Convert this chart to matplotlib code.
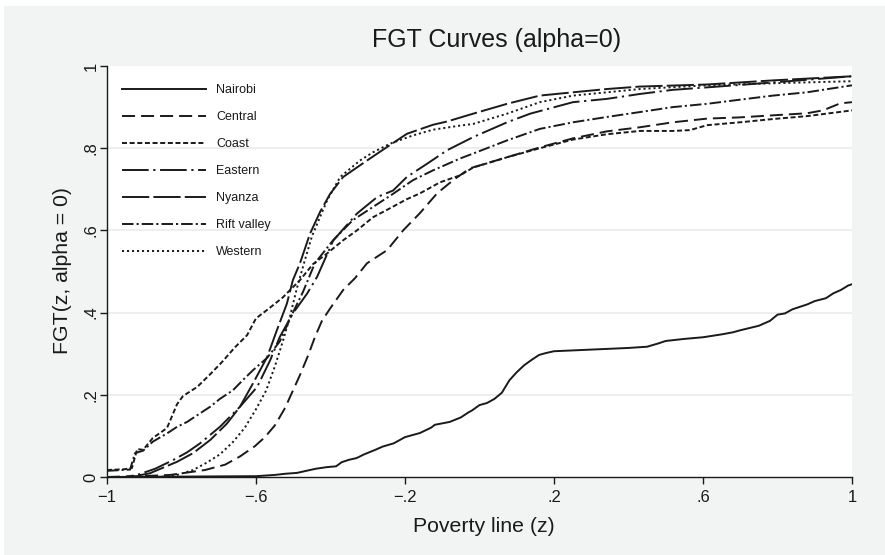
import matplotlib
matplotlib.use("Agg")
import matplotlib.pyplot as plt
from matplotlib.patches import Rectangle

plt.rcParams['font.family'] = ['Liberation Sans', 'DejaVu Sans']
plt.rcParams['lines.scale_dashes'] = False

## FGT (alpha=0) curves by region, poverty line z on the x axis
regions = ["Nairobi", "Central", "Coast", "Eastern", "Nyanza", "Rift valley", "Western"]

nairobi_z = [-1.0, -0.6, -0.55, -0.52, -0.49, -0.475, -0.44, -0.41, -0.385, -0.37, -0.35, -0.33,
             -0.31, -0.28, -0.26, -0.23, -0.2, -0.16, -0.13, -0.12, -0.08, -0.05, -0.03, -0.02,
             0.0, 0.02, 0.04, 0.06, 0.08, 0.1, 0.12, 0.14, 0.16, 0.18, 0.2, 0.25, 0.3, 0.35,
             0.4, 0.45, 0.48, 0.5, 0.55, 0.6, 0.65, 0.68, 0.7, 0.75, 0.78, 0.8, 0.82, 0.84,
             0.88, 0.9, 0.93, 0.95, 0.97, 0.99, 1.0]
nairobi_p = [0.0, 0.002, 0.005, 0.008, 0.01, 0.013, 0.02, 0.024, 0.026, 0.036, 0.042, 0.046,
             0.055, 0.066, 0.074, 0.082, 0.097, 0.107, 0.12, 0.127, 0.134, 0.145, 0.157, 0.162,
             0.175, 0.18, 0.19, 0.205, 0.235, 0.255, 0.272, 0.285, 0.297, 0.302, 0.306, 0.308,
             0.31, 0.312, 0.314, 0.317, 0.325, 0.331, 0.336, 0.34, 0.347, 0.352, 0.357, 0.368,
             0.38, 0.395, 0.398, 0.408, 0.42, 0.428, 0.435, 0.447, 0.455, 0.466, 0.469]

central_z = [-1.0, -0.885, -0.831, -0.791, -0.737, -0.683, -0.643, -0.603, -0.576, -0.549,
             -0.522, -0.501, -0.482, -0.46, -0.442, -0.423, -0.401, -0.366, -0.334, -0.302,
             -0.248, -0.205, -0.16, -0.114, -0.071, -0.026, 0.074, 0.162, 0.251, 0.342, 0.431,
             0.519, 0.611, 0.699, 0.788, 0.879, 0.922, 0.968, 1.0]
central_p = [0.0, 0.003, 0.005, 0.01, 0.017, 0.03, 0.05, 0.075, 0.097, 0.126, 0.168, 0.21,
             0.248, 0.296, 0.34, 0.38, 0.41, 0.455, 0.484, 0.52, 0.552, 0.6, 0.642, 0.69,
             0.722, 0.751, 0.778, 0.802, 0.824, 0.841, 0.851, 0.863, 0.872, 0.875, 0.88,
             0.885, 0.892, 0.909, 0.912]

coast_z = [-1.0, -0.952, -0.933, -0.919, -0.903, -0.877, -0.839, -0.812, -0.796, -0.758,
           -0.723, -0.691, -0.656, -0.624, -0.6, -0.568, -0.528, -0.482, -0.447, -0.409,
           -0.366, -0.329, -0.286, -0.24, -0.195, -0.16, -0.106, -0.052, -0.017, 0.074,
           0.162, 0.251, 0.342, 0.431, 0.519, 0.565, 0.611, 0.699, 0.788, 0.879, 1.0]
coast_p = [0.017, 0.019, 0.022, 0.068, 0.066, 0.095, 0.119, 0.177, 0.197, 0.219, 0.25, 0.28,
           0.316, 0.345, 0.386, 0.408, 0.437, 0.479, 0.518, 0.544, 0.576, 0.6, 0.632, 0.654,
           0.676, 0.69, 0.717, 0.734, 0.753, 0.778, 0.8, 0.821, 0.834, 0.842, 0.842, 0.844,
           0.856, 0.863, 0.871, 0.878, 0.892]

eastern_z = [-1.0, -0.952, -0.919, -0.871, -0.823, -0.785, -0.75, -0.697, -0.643, -0.597,
             -0.562, -0.536, -0.501, -0.463, -0.436, -0.393, -0.329, -0.275, -0.232, -0.195,
             -0.141, -0.087, -0.017, 0.074, 0.136, 0.251, 0.342, 0.431, 0.519, 0.611, 0.788, 1.0]
eastern_p = [0.0, 0.0, 0.005, 0.02, 0.041, 0.06, 0.082, 0.122, 0.171, 0.219, 0.284, 0.341,
             0.398, 0.446, 0.487, 0.575, 0.641, 0.681, 0.697, 0.73, 0.762, 0.795, 0.827,
             0.863, 0.884, 0.912, 0.92, 0.932, 0.942, 0.948, 0.96, 0.975]

nyanza_z = [-1.0, -0.938, -0.885, -0.812, -0.769, -0.723, -0.678, -0.643, -0.608, -0.57,
            -0.544, -0.517, -0.501, -0.482, -0.455, -0.428, -0.401, -0.366, -0.302, -0.248,
            -0.195, -0.125, -0.087, -0.017, 0.074, 0.162, 0.251, 0.342, 0.431, 0.611, 0.788, 1.0]
nyanza_p = [0.0, 0.0, 0.009, 0.037, 0.058, 0.09, 0.13, 0.171, 0.228, 0.292, 0.357, 0.422,
            0.479, 0.52, 0.592, 0.645, 0.689, 0.73, 0.77, 0.803, 0.835, 0.857, 0.865, 0.884,
            0.908, 0.928, 0.936, 0.944, 0.95, 0.955, 0.965, 0.975]

rift_z = [-1.0, -0.938, -0.925, -0.903, -0.877, -0.839, -0.812, -0.785, -0.75, -0.723,
          -0.697, -0.662, -0.635, -0.608, -0.57, -0.536, -0.501, -0.474, -0.442, -0.393,
          -0.34, -0.286, -0.232, -0.179, -0.125, -0.052, -0.017, 0.074, 0.162, 0.251, 0.342,
          0.431, 0.519, 0.611, 0.699, 0.788, 0.879, 1.0]
rift_p = [0.015, 0.018, 0.058, 0.064, 0.086, 0.106, 0.122, 0.134, 0.155, 0.171, 0.19, 0.211,
          0.236, 0.26, 0.29, 0.33, 0.4, 0.45, 0.52, 0.576, 0.625, 0.657, 0.689, 0.722, 0.746,
          0.775, 0.787, 0.819, 0.847, 0.863, 0.876, 0.888, 0.9, 0.908, 0.918, 0.928, 0.936,
          0.953]

western_z = [-1.0, -0.858, -0.812, -0.769, -0.732, -0.697, -0.662, -0.63, -0.6, -0.573,
             -0.549, -0.528, -0.509, -0.49, -0.468, -0.45, -0.434, -0.409, -0.374, -0.321,
             -0.286, -0.24, -0.179, -0.125, -0.052, -0.017, 0.074, 0.162, 0.251, 0.342,
             0.431, 0.611, 0.788, 1.0]
western_p = [0.0, 0.0, 0.005, 0.017, 0.035, 0.055, 0.085, 0.12, 0.165, 0.21, 0.27, 0.33,
             0.39, 0.46, 0.53, 0.585, 0.62, 0.673, 0.73, 0.77, 0.79, 0.811, 0.831, 0.845,
             0.855, 0.859, 0.884, 0.912, 0.928, 0.936, 0.944, 0.953, 0.958, 0.963]

xticks = [-1, -0.6, -0.2, 0.2, 0.6, 1]
xtick_labels = ["\u22121", "\u2212.6", "\u2212.2", ".2", ".6", "1"]
yticks = [0, 0.2, 0.4, 0.6, 0.8, 1]
ytick_labels = ["0", ".2", ".4", ".6", ".8", "1"]

# dash patterns in points (monochrome style)
styles = {
    "Nairobi": "-",
    "Central": (0, (9.4, 4.3)),
    "Coast": (0, (3.6, 1.9)),
    "Eastern": (0, (19.2, 3.3, 1.6, 3.3)),
    "Nyanza": (0, (19.6, 3.0)),
    "Rift valley": (0, (8.3, 2.2, 1.5, 2.2)),
    "Western": (0, (1.5, 2.1)),
}
series = {
    "Nairobi": (nairobi_z, nairobi_p),
    "Central": (central_z, central_p),
    "Coast": (coast_z, coast_p),
    "Eastern": (eastern_z, eastern_p),
    "Nyanza": (nyanza_z, nyanza_p),
    "Rift valley": (rift_z, rift_p),
    "Western": (western_z, western_p),
}

ink = "#1a1a1a"
W, H = 885, 555
fig = plt.figure(figsize=(W / 100, H / 100), dpi=100)
fig.patch.set_facecolor("white")
fig.patches.append(Rectangle((4 / W, 0), 1, 1 - 6 / H, transform=fig.transFigure,
                             facecolor="#f2f3f3", edgecolor="none", zorder=-10))

ax = fig.add_axes([107 / W, 1 - 477 / H, 745 / W, 411 / H])
ax.set_facecolor("white")

for name in regions:
    z, p = series[name]
    ax.plot(z, p, color=ink, lw=1.4, linestyle=styles[name], label=name)

ax.set_xlim(-1, 1)
ax.set_ylim(0, 1)
ax.set_xticks(xticks)
ax.set_xticklabels(xtick_labels)
ax.set_yticks(yticks)
ax.set_yticklabels(ytick_labels, rotation=90, va="center")
ax.tick_params(axis="both", direction="out", length=5, width=1, color=ink,
               labelsize=12, labelcolor=ink)
ax.tick_params(axis="x", pad=4)
ax.tick_params(axis="y", pad=1)
for y in [0.2, 0.4, 0.6, 0.8]:
    ax.axhline(y, color="#ebebeb", lw=1.2, zorder=0)

for side in ["top", "right"]:
    ax.spines[side].set_visible(False)
for side in ["left", "bottom"]:
    ax.spines[side].set_color(ink)
    ax.spines[side].set_linewidth(1.0)

# axis titles and graph title
fig.text(484 / W, 1 - 527 / H, "Poverty line (z)", fontsize=15.3, color=ink,
         ha="center", va="center")
fig.text(63 / W, 1 - 271 / H, "FGT(z, alpha = 0)", fontsize=15.3, color=ink,
         ha="center", va="center", rotation=90)
fig.text(497 / W, 1 - 40 / H, "FGT Curves (alpha=0)", fontsize=18, color=ink,
         ha="center", va="center")

leg = ax.legend(loc="upper left", bbox_to_anchor=(122 / W, 1 - 84 / H),
                bbox_transform=fig.transFigure, frameon=False, fontsize=9,
                handlelength=6.7, handletextpad=0.85, labelspacing=1.2, borderpad=0,
                borderaxespad=0)
for t in leg.get_texts():
    t.set_color(ink)

fig.savefig("out.png", dpi=100)
